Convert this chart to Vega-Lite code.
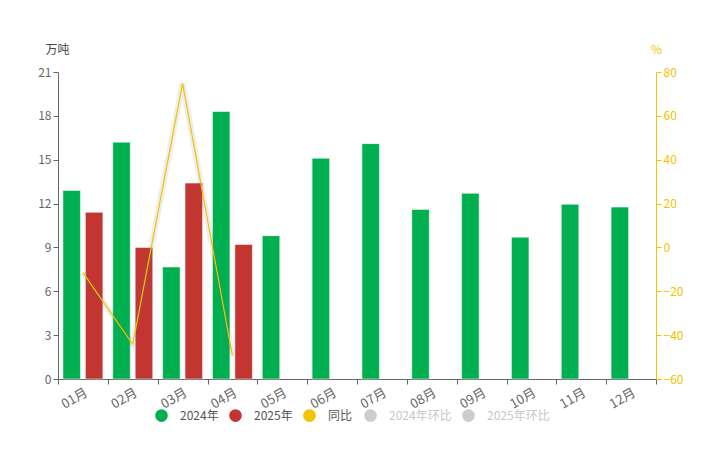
{
  "$schema": "https://vega.github.io/schema/vega-lite/v6.json",
  "width": 598,
  "height": 307,
  "autosize": "none",
  "padding": {"left": 58, "top": 72, "right": 49, "bottom": 77},
  "background": "#ffffff",
  "config": {
    "view": {"stroke": null},
    "font": "Noto Sans CJK SC",
    "axis": {"grid": false, "labelFont": "Noto Sans CJK SC", "titleFont": "Noto Sans CJK SC"}
  },
  "datasets": {
    "bars": [
      {"month": "01月", "series": "2024年", "value": 12.9},
      {"month": "01月", "series": "2025年", "value": 11.4},
      {"month": "02月", "series": "2024年", "value": 16.2},
      {"month": "02月", "series": "2025年", "value": 9.0},
      {"month": "03月", "series": "2024年", "value": 7.66},
      {"month": "03月", "series": "2025年", "value": 13.4},
      {"month": "04月", "series": "2024年", "value": 18.3},
      {"month": "04月", "series": "2025年", "value": 9.2},
      {"month": "05月", "series": "2024年", "value": 9.8},
      {"month": "06月", "series": "2024年", "value": 15.1},
      {"month": "07月", "series": "2024年", "value": 16.1},
      {"month": "08月", "series": "2024年", "value": 11.6},
      {"month": "09月", "series": "2024年", "value": 12.7},
      {"month": "10月", "series": "2024年", "value": 9.7},
      {"month": "11月", "series": "2024年", "value": 11.95},
      {"month": "12月", "series": "2024年", "value": 11.76}
    ],
    "yoy": [
      {"month": "01月", "yoy": -11.5},
      {"month": "02月", "yoy": -44.2},
      {"month": "03月", "yoy": 74.8},
      {"month": "04月", "yoy": -49.5}
    ],
    "inactive": [
      {"month": "01月", "series": "2024年环比"},
      {"month": "01月", "series": "2025年环比"}
    ]
  },
  "encoding": {
    "x": {
      "field": "month",
      "type": "nominal",
      "sort": ["01月","02月","03月","04月","05月","06月","07月","08月","09月","10月","11月","12月"],
      "scale": {"domain": ["01月","02月","03月","04月","05月","06月","07月","08月","09月","10月","11月","12月"], "paddingInner": 0, "paddingOuter": 0},
      "axis": {
        "title": null,
        "labelAngle": -30,
        "labelColor": "#666666",
        "labelFontSize": 13,
        "domainColor": "#666666",
        "tickColor": "#666666",
        "tickBand": "extent",
        "tickSize": 5,
        "labelPadding": 2
      }
    }
  },
  "layer": [
    {
      "data": {"name": "bars"},
      "mark": {"type": "bar", "stroke": "#ffffff", "strokeOpacity": 0.5, "strokeWidth": 1},
      "encoding": {
        "xOffset": {"field": "series", "type": "nominal", "scale": {"domain": ["2024年", "2025年"], "paddingInner": 0.22, "paddingOuter": 0.22}},
        "y": {
          "field": "value",
          "type": "quantitative",
          "scale": {"domain": [0, 21], "nice": false, "zero": true},
          "axis": {
            "values": [0, 3, 6, 9, 12, 15, 18, 21],
            "title": "万吨",
            "titleAngle": 0,
            "titleX": -1,
            "titleY": -16,
            "titleAlign": "center",
            "titleBaseline": "bottom",
            "titleColor": "#444444",
            "titleFontSize": 12,
            "titleFontWeight": "normal",
            "labelColor": "#666666",
            "labelFontSize": 12,
            "domainColor": "#666666",
            "tickColor": "#666666",
            "tickSize": 5
          }
        },
        "color": {
          "field": "series",
          "type": "nominal",
          "scale": {
            "domain": ["2024年", "2025年", "同比"],
            "range": ["#00b050", "#c23531", "#f0c400"]
          },
          "legend": {
            "title": null,
            "orient": "none",
            "direction": "horizontal",
            "legendX": 97,
            "legendY": 337,
            "symbolType": "circle",
            "symbolSize": 160,
            "symbolStrokeWidth": 0,
            "symbolOpacity": 1,
            "labelFontSize": 12,
            "labelOffset": 12,
            "columnPadding": 10,
            "labelColor": "#555555"
          }
        }
      }
    },
    {
      "data": {"name": "inactive"},
      "mark": {"type": "point", "filled": true, "size": 0},
      "encoding": {
        "fill": {
          "field": "series",
          "type": "nominal",
          "scale": {"domain": ["2024年环比", "2025年环比"], "range": ["#cccccc", "#cccccc"]},
          "legend": {
            "title": null,
            "orient": "none",
            "direction": "horizontal",
            "legendX": 306,
            "legendY": 337,
            "symbolType": "circle",
            "symbolSize": 160,
            "symbolStrokeWidth": 0,
            "symbolOpacity": 1,
            "labelFontSize": 12,
            "labelOffset": 12,
            "columnPadding": 10,
            "labelColor": "#c8c8c8"
          }
        }
      }
    },
    {
      "data": {"name": "yoy"},
      "encoding": {
        "y": {
          "field": "yoy",
          "type": "quantitative",
          "scale": {"domain": [-60, 80], "nice": false, "zero": false},
          "axis": {
            "orient": "right",
            "values": [-60, -40, -20, 0, 20, 40, 60, 80],
            "title": "%",
            "titleAngle": 0,
            "titleX": 0,
            "titleY": -16,
            "titleAlign": "center",
            "titleBaseline": "bottom",
            "titleColor": "#f0c400",
            "titleFontSize": 12,
            "titleFontWeight": "normal",
            "labelColor": "#f0c400",
            "labelFontSize": 12,
            "domainColor": "#f0c400",
            "tickColor": "#f0c400",
            "tickSize": 5
          }
        }
      },
      "layer": [
        {"mark": {"type": "line", "stroke": "#777777", "strokeWidth": 6, "opacity": 0.12}, "encoding": {}},
        {"mark": {"type": "line", "stroke": "#f0c400", "strokeWidth": 1.2}, "encoding": {}}
      ]
    }
  ],
  "resolve": {"scale": {"y": "independent"}}
}
